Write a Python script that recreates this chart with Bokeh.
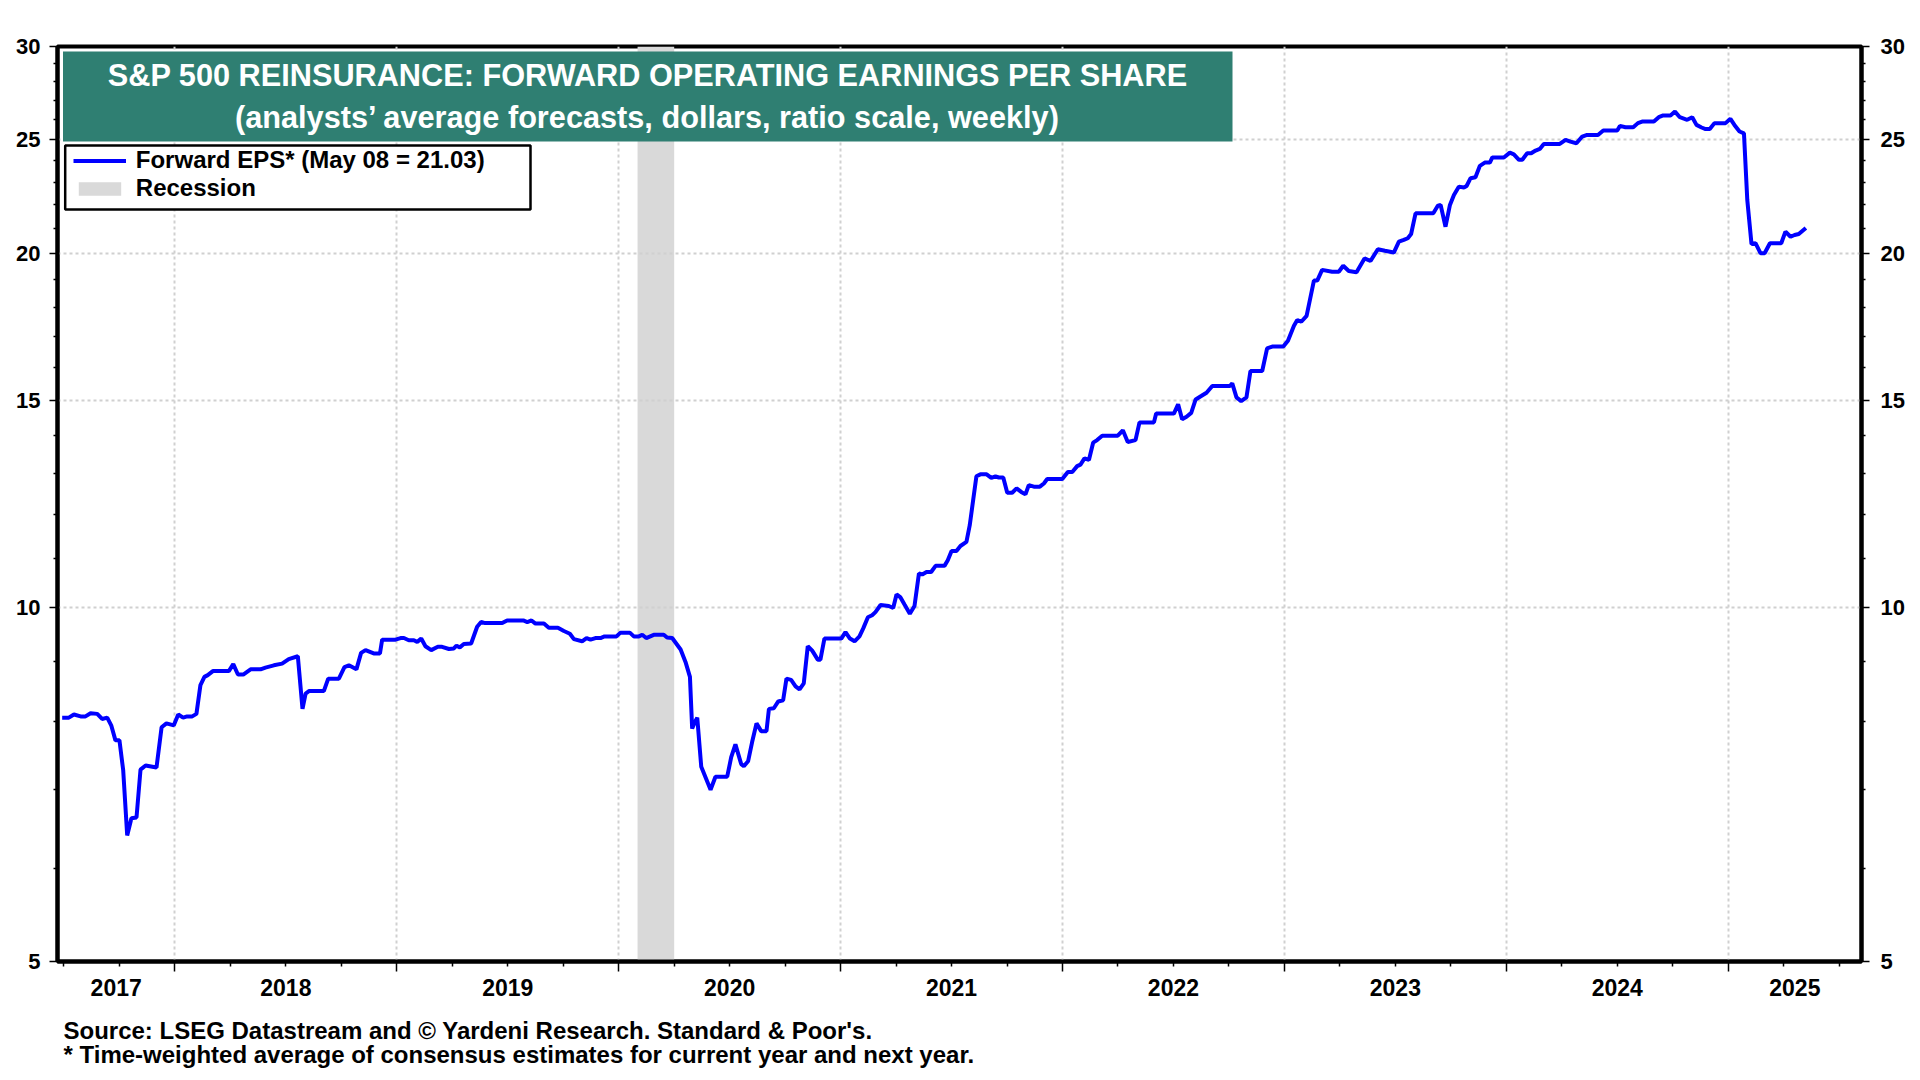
import math
from bokeh.plotting import figure
from bokeh.layouts import column
from bokeh.models import (Range1d, FixedTicker, LogAxis, LinearAxis, CustomJSTickFormatter,
                          BoxAnnotation, Legend, LegendItem)
from bokeh.core.properties import value
from bokeh.embed import file_html
from bokeh.resources import INLINE

# ---------------- data ----------------
dates = [
    2017.492, 2017.522, 2017.545, 2017.575, 2017.597, 2017.620, 2017.650, 2017.672, 2017.695, 2017.713,
    2017.732, 2017.750, 2017.767, 2017.785, 2017.804, 2017.827, 2017.845, 2017.868, 2017.917, 2017.940,
    2017.962, 2017.995, 2018.015, 2018.037, 2018.055, 2018.078, 2018.097, 2018.115, 2018.133, 2018.148,
    2018.171, 2018.243, 2018.263, 2018.284, 2018.308, 2018.341, 2018.386, 2018.408, 2018.446, 2018.483,
    2018.513, 2018.554, 2018.575, 2018.589, 2018.604, 2018.671, 2018.691, 2018.739, 2018.764, 2018.784,
    2018.818, 2018.839, 2018.859, 2018.896, 2018.924, 2018.934, 2018.994, 2019.017, 2019.032, 2019.054,
    2019.077, 2019.092, 2019.110, 2019.129, 2019.155, 2019.185, 2019.204, 2019.235, 2019.257, 2019.269,
    2019.284, 2019.302, 2019.335, 2019.362, 2019.380, 2019.398, 2019.475, 2019.497, 2019.570, 2019.588,
    2019.607, 2019.625, 2019.663, 2019.685, 2019.726, 2019.753, 2019.780, 2019.798, 2019.835, 2019.855,
    2019.873, 2019.895, 2019.918, 2019.936, 2019.990, 2020.008, 2020.050, 2020.068, 2020.091, 2020.106,
    2020.124, 2020.158, 2020.203, 2020.218, 2020.241, 2020.279, 2020.301, 2020.321, 2020.331, 2020.343,
    2020.354, 2020.372, 2020.414, 2020.436, 2020.489, 2020.507, 2020.526, 2020.552, 2020.564, 2020.583,
    2020.601, 2020.621, 2020.642, 2020.666, 2020.677, 2020.699, 2020.719, 2020.741, 2020.756, 2020.777,
    2020.797, 2020.815, 2020.834, 2020.852, 2020.872, 2020.897, 2020.909, 2020.927, 2021.003, 2021.022,
    2021.042, 2021.063, 2021.085, 2021.102, 2021.123, 2021.142, 2021.157, 2021.180, 2021.217, 2021.237,
    2021.252, 2021.270, 2021.288, 2021.312, 2021.333, 2021.353, 2021.368, 2021.387, 2021.408, 2021.428,
    2021.468, 2021.483, 2021.500, 2021.522, 2021.540, 2021.567, 2021.582, 2021.612, 2021.630, 2021.658,
    2021.679, 2021.698, 2021.713, 2021.733, 2021.751, 2021.773, 2021.793, 2021.814, 2021.833, 2021.848,
    2021.871, 2021.898, 2021.916, 2021.931, 2021.999, 2022.024, 2022.044, 2022.066, 2022.081, 2022.099,
    2022.119, 2022.138, 2022.156, 2022.179, 2022.249, 2022.272, 2022.294, 2022.329, 2022.347, 2022.412,
    2022.422, 2022.502, 2022.521, 2022.539, 2022.559, 2022.580, 2022.600, 2022.625, 2022.649, 2022.675,
    2022.754, 2022.765, 2022.784, 2022.805, 2022.829, 2022.847, 2022.900, 2022.922, 2022.945, 2022.995,
    2023.016, 2023.043, 2023.058, 2023.076, 2023.100, 2023.133, 2023.148, 2023.170, 2023.215, 2023.245,
    2023.265, 2023.290, 2023.325, 2023.361, 2023.388, 2023.421, 2023.453, 2023.493, 2023.516, 2023.538,
    2023.556, 2023.571, 2023.591, 2023.671, 2023.692, 2023.704, 2023.726, 2023.746, 2023.764, 2023.786,
    2023.809, 2023.821, 2023.839, 2023.861, 2023.881, 2023.903, 2023.926, 2023.937, 2023.989, 2024.016,
    2024.034, 2024.057, 2024.072, 2024.094, 2024.112, 2024.132, 2024.151, 2024.169, 2024.241, 2024.267,
    2024.289, 2024.316, 2024.342, 2024.364, 2024.413, 2024.437, 2024.500, 2024.512, 2024.537, 2024.572,
    2024.593, 2024.612, 2024.665, 2024.687, 2024.707, 2024.740, 2024.760, 2024.782, 2024.815, 2024.838,
    2024.857, 2024.880, 2024.898, 2024.917, 2024.938, 2024.988, 2025.010, 2025.028, 2025.051, 2025.071,
    2025.086, 2025.105, 2025.123, 2025.146, 2025.164, 2025.188, 2025.239, 2025.258, 2025.281, 2025.299,
    2025.318, 2025.350,
]
forward_eps = [
    8.06, 8.06, 8.11, 8.08, 8.08, 8.13, 8.12, 8.04, 8.06, 7.94,
    7.71, 7.71, 7.27, 6.40, 6.62, 6.63, 7.28, 7.34, 7.31, 7.91,
    7.97, 7.94, 8.11, 8.06, 8.08, 8.08, 8.12, 8.59, 8.73, 8.76,
    8.83, 8.83, 8.95, 8.77, 8.77, 8.86, 8.86, 8.89, 8.93, 8.96,
    9.04, 9.09, 8.20, 8.45, 8.49, 8.49, 8.70, 8.70, 8.90, 8.93,
    8.86, 9.15, 9.20, 9.14, 9.14, 9.39, 9.39, 9.42, 9.42, 9.38,
    9.38, 9.35, 9.41, 9.27, 9.20, 9.26, 9.26, 9.22, 9.23, 9.28,
    9.25, 9.31, 9.32, 9.63, 9.72, 9.70, 9.70, 9.75, 9.75, 9.72,
    9.75, 9.69, 9.69, 9.61, 9.61, 9.55, 9.50, 9.40, 9.36, 9.42,
    9.39, 9.42, 9.42, 9.45, 9.45, 9.52, 9.52, 9.45, 9.45, 9.48,
    9.42, 9.48, 9.48, 9.43, 9.42, 9.21, 8.99, 8.73, 7.89, 7.99,
    8.06, 7.32, 7.00, 7.18, 7.18, 7.46, 7.65, 7.36, 7.33, 7.40,
    7.68, 7.97, 7.85, 7.85, 8.20, 8.21, 8.32, 8.34, 8.70, 8.68,
    8.57, 8.52, 8.62, 9.27, 9.19, 9.03, 9.03, 9.41, 9.41, 9.53,
    9.41, 9.36, 9.45, 9.60, 9.81, 9.85, 9.91, 10.05, 10.03, 9.99,
    10.26, 10.20, 10.06, 9.88, 10.03, 10.69, 10.67, 10.72, 10.72, 10.85,
    10.85, 10.97, 11.17, 11.17, 11.28, 11.37, 11.75, 12.93, 12.98, 12.98,
    12.89, 12.93, 12.90, 12.90, 12.52, 12.52, 12.63, 12.54, 12.48, 12.71,
    12.67, 12.67, 12.75, 12.86, 12.86, 13.04, 13.04, 13.19, 13.23, 13.39,
    13.35, 13.81, 13.88, 14.00, 14.00, 14.15, 13.83, 13.88, 14.37, 14.37,
    14.62, 14.62, 14.89, 14.46, 14.53, 14.64, 15.03, 15.13, 15.23, 15.43,
    15.43, 15.51, 15.09, 14.98, 15.09, 15.89, 15.89, 16.61, 16.67, 16.67,
    16.86, 17.36, 17.56, 17.50, 17.70, 18.97, 18.97, 19.37, 19.30, 19.30,
    19.53, 19.33, 19.28, 19.81, 19.71, 20.17, 20.11, 20.04, 20.47, 20.54,
    20.61, 20.78, 21.64, 21.64, 21.97, 22.00, 21.08, 22.00, 22.43, 22.80,
    22.76, 22.83, 23.18, 23.22, 23.75, 23.90, 23.90, 24.14, 24.14, 24.37,
    24.29, 24.03, 24.03, 24.34, 24.34, 24.47, 24.55, 24.79, 24.79, 24.99,
    24.90, 24.82, 25.15, 25.23, 25.23, 25.45, 25.45, 25.68, 25.61, 25.61,
    25.82, 25.90, 25.90, 26.12, 26.21, 26.21, 26.41, 26.12, 25.99, 26.12,
    25.73, 25.60, 25.52, 25.52, 25.82, 25.82, 26.04, 25.73, 25.40, 25.31,
    22.21, 20.38, 20.41, 20.01, 20.01, 20.41, 20.41, 20.88, 20.67, 20.74,
    20.78, 21.03,
]
recession_start = [2020.085]
recession_end = [2020.250]

year_ticks = [2018, 2019, 2020, 2021, 2022, 2023, 2024, 2025]
quarter_ticks = [2017.5, 2017.75, 2018.25, 2018.5, 2018.75, 2019.25, 2019.5, 2019.75,
                 2020.25, 2020.5, 2020.75, 2021.25, 2021.5, 2021.75, 2022.25, 2022.5,
                 2022.75, 2023.25, 2023.5, 2023.75, 2024.25, 2024.5, 2024.75, 2025.25, 2025.5]
year_labels = [2017, 2018, 2019, 2020, 2021, 2022, 2023, 2024, 2025]
y_ticks = [5, 10, 15, 20, 25, 30]
y_minor_ticks = [6, 7, 8, 9, 11, 12, 13, 14, 16, 17, 18, 19, 21, 22, 23, 24, 26, 27, 28, 29]
y_grid_ticks = [10, 15, 20, 25]

title_lines = ["S&P 500 REINSURANCE: FORWARD OPERATING EARNINGS PER SHARE",
               "(analysts\u2019 average forecasts, dollars, ratio scale, weekly)"]
legend_line = "Forward EPS* (May 08 = 21.03)"
legend_recession = "Recession"
notes = ["Source: LSEG Datastream and \u00a9 Yardeni Research. Standard & Poor's.",
         "* Time-weighted average of consensus estimates for current year and next year."]

# ---------------- layout ----------------
X_START, X_END = 2017.4709, 2025.6007
Y_START, Y_END = 5, 30
W, H1, H2 = 1918, 1010, 68
BL, BR, BT, BB = 57, W - 1861, 46, H1 - 961
FONT = "Liberation Sans"
TEAL = "#2F7F72"
TITLE_SIZE, NOTE_SIZE = 30.7, 24
BASE_FIX = 0.35  # svg text baseline correction (fraction of font size)

FL, FR, FT, FB = BL, W - BR, BT, H1 - BB


def px_x(px):
    return X_START + (px - FL) / (FR - FL) * (X_END - X_START)


def px_y(py):
    a, b = math.log(Y_START), math.log(Y_END)
    return math.exp(a + (FB - py) / (FB - FT) * (b - a))


p = figure(width=W, height=H1, x_range=Range1d(X_START, X_END), y_range=Range1d(Y_START, Y_END),
           y_axis_type="log", output_backend="svg", toolbar_location=None,
           min_border_left=BL, min_border_right=BR, min_border_top=BT, min_border_bottom=BB,
           background_fill_color="white", border_fill_color="white")
p.outline_line_color = "black"
p.outline_line_width = 4

# grids
for g, ticks in ((p.xgrid, year_ticks), (p.ygrid, y_grid_ticks)):
    g.ticker = FixedTicker(ticks=ticks)
    g.grid_line_color = "#D0D0D0"
    g.grid_line_width = 2
    g.grid_line_dash = "3 3"

# x tick axis (year boundaries + quarters)
xa = p.xaxis[0]
xa.ticker = FixedTicker(ticks=year_ticks, minor_ticks=quarter_ticks)
xa.formatter = CustomJSTickFormatter(code="return ''")
xa.major_label_text_font_size = "0px"
xa.major_label_standoff = 0
xa.axis_line_width = 4
xa.axis_line_color = "black"
xa.major_tick_in = 0
xa.major_tick_out = 10
xa.minor_tick_in = 0
xa.minor_tick_out = 5
xa.major_tick_line_width = 1.5
xa.minor_tick_line_width = 1.5

# x label axis (year names centred in the visible part of each year)
label_pos = [(max(y, X_START) + min(y + 1, X_END)) / 2 for y in year_labels]
xl = LinearAxis(ticker=FixedTicker(ticks=label_pos, minor_ticks=[]),
                formatter=CustomJSTickFormatter(code="return Math.floor(tick).toString()"),
                axis_line_color=None, major_tick_line_color=None, minor_tick_line_color=None,
                major_label_standoff=1,
                major_label_text_font=FONT, major_label_text_font_style="bold",
                major_label_text_font_size="23px", major_label_text_color="black")
p.add_layout(xl, "below")


def style_y(ax, standoff):
    ax.ticker = FixedTicker(ticks=y_ticks, minor_ticks=y_minor_ticks)
    ax.formatter = CustomJSTickFormatter(code="return tick.toFixed(0)")
    ax.axis_line_width = 4
    ax.axis_line_color = "black"
    ax.major_tick_in = 0
    ax.major_tick_out = 8
    ax.minor_tick_in = 0
    ax.minor_tick_out = 4
    ax.major_tick_line_width = 1.5
    ax.minor_tick_line_width = 1.5
    ax.major_label_standoff = standoff
    ax.major_label_text_font = FONT
    ax.major_label_text_font_style = "bold"
    ax.major_label_text_font_size = "22px"
    ax.major_label_text_color = "black"


style_y(p.yaxis[0], 9)
ry = LogAxis()
style_y(ry, 11)
p.add_layout(ry, "right")

# recession shading and series
rec = p.quad(left=recession_start, right=recession_end, bottom=[Y_START], top=[Y_END],
             fill_color="#D9D9D9", line_color=None, level="underlay")
ln = p.line(dates, forward_eps, line_color="#0000FF", line_width=4)

# title box
p.add_layout(BoxAnnotation(left=px_x(62.5), right=px_x(1232), top=px_y(51), bottom=px_y(141),
                           fill_color=TEAL, fill_alpha=1, line_color=None))
cx = px_x((62.5 + 1232) / 2)
fix_t = BASE_FIX * TITLE_SIZE
p.text(x=[cx, cx], y=[px_y(85.5 - fix_t), px_y(127.5 - fix_t)], text=title_lines, text_align="center",
       text_baseline="alphabetic", text_font=value(FONT), text_font_style="bold",
       text_font_size=value(f"{TITLE_SIZE}px"), text_color="white", level="overlay")

# legend box + legend
p.add_layout(BoxAnnotation(left=px_x(64.7), right=px_x(530), top=px_y(145), bottom=px_y(209),
                           fill_color="white", fill_alpha=1, line_color="black", line_alpha=1,
                           line_width=2.5))
legend = Legend(items=[LegendItem(label=legend_line, renderers=[ln]),
                       LegendItem(label=legend_recession, renderers=[rec])],
                location=(72.8 - FL, FB - 202), padding=0, spacing=0, margin=0,
                border_line_color=None, background_fill_alpha=0,
                glyph_width=53, glyph_height=17, label_height=27, label_standoff=10,
                label_text_font=FONT, label_text_font_style="bold", label_text_font_size="24px",
                label_text_color="black")
p.add_layout(legend, "center")

# notes strip below the chart (its frame is aligned with the chart frame by the column)
q = figure(width=W, height=H2, x_range=Range1d(FL, FR), y_range=Range1d(H2, 0),
           output_backend="svg", toolbar_location=None, x_axis_location=None, y_axis_location=None,
           min_border=0, min_border_left=0, min_border_right=0, min_border_top=0, min_border_bottom=0,
           background_fill_color="white", border_fill_color="white")
q.outline_line_color = None
q.xgrid.visible = False
q.ygrid.visible = False
fix_n = BASE_FIX * NOTE_SIZE
q.text(x=[63, 63], y=[1038 - H1 - fix_n, 1062 - H1 - fix_n], text=notes, text_align="left",
       text_baseline="alphabetic", text_font=value(FONT), text_font_style="bold",
       text_font_size=value(f"{NOTE_SIZE}px"), text_color="black")

layout = column(p, q, spacing=0)
open("out.html", "w").write(file_html(layout, INLINE))
